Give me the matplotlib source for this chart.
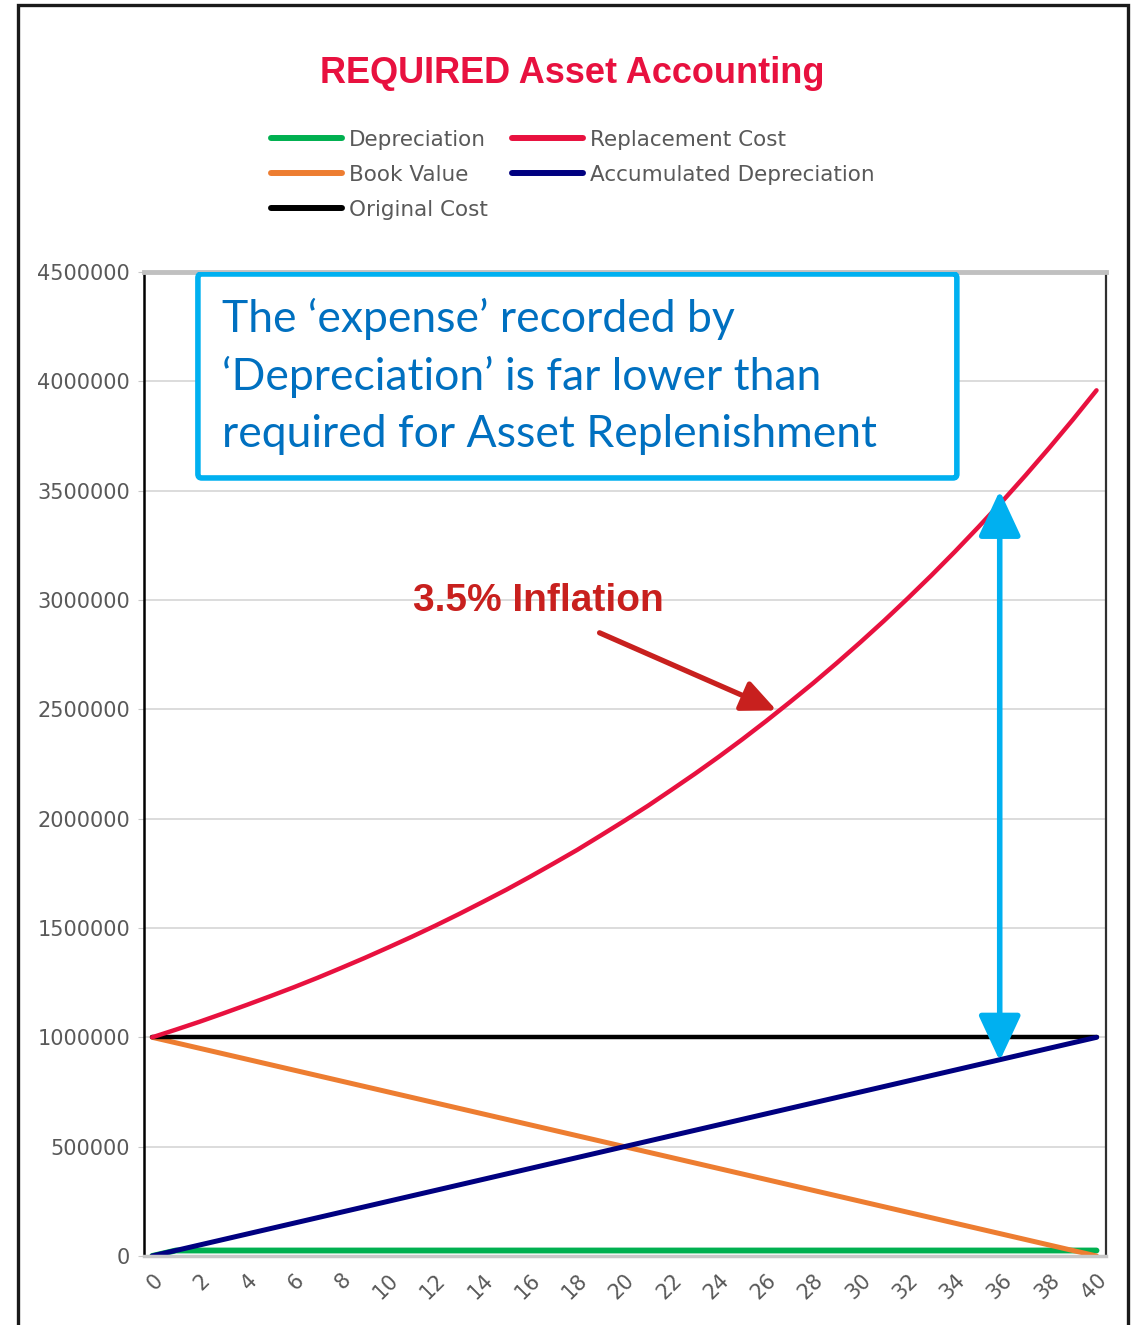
import matplotlib.pyplot as plt
from matplotlib.patches import Rectangle, FancyBboxPatch

# ---- data (40 year asset life, 3.5% inflation) ----
years = [0, 1, 2, 3, 4, 5, 6, 7, 8, 9, 10, 11, 12, 13, 14, 15, 16, 17, 18, 19, 20,
         21, 22, 23, 24, 25, 26, 27, 28, 29, 30, 31, 32, 33, 34, 35, 36, 37, 38, 39, 40]

depreciation = [0] + [25000] * 40

book_value = [1000000, 975000, 950000, 925000, 900000, 875000, 850000, 825000, 800000, 775000,
              750000, 725000, 700000, 675000, 650000, 625000, 600000, 575000, 550000, 525000,
              500000, 475000, 450000, 425000, 400000, 375000, 350000, 325000, 300000, 275000,
              250000, 225000, 200000, 175000, 150000, 125000, 100000, 75000, 50000, 25000, 0]

original_cost = [1000000] * 41

replacement_cost = [1000000, 1035000, 1071000, 1109000, 1148000, 1188000, 1229000, 1272000,
                    1317000, 1363000, 1411000, 1460000, 1511000, 1564000, 1619000, 1675000,
                    1734000, 1795000, 1857000, 1923000, 1990000, 2059000, 2132000, 2206000,
                    2283000, 2363000, 2446000, 2532000, 2620000, 2712000, 2807000, 2905000,
                    3007000, 3112000, 3221000, 3334000, 3450000, 3571000, 3696000, 3825000, 3959000]

accumulated_depreciation = [0, 25000, 50000, 75000, 100000, 125000, 150000, 175000, 200000, 225000,
                            250000, 275000, 300000, 325000, 350000, 375000, 400000, 425000, 450000,
                            475000, 500000, 525000, 550000, 575000, 600000, 625000, 650000, 675000,
                            700000, 725000, 750000, 775000, 800000, 825000, 850000, 875000, 900000,
                            925000, 950000, 975000, 1000000]

x_ticks = [0, 2, 4, 6, 8, 10, 12, 14, 16, 18, 20, 22, 24, 26, 28, 30, 32, 34, 36, 38, 40]
y_ticks = [0, 500000, 1000000, 1500000, 2000000, 2500000, 3000000, 3500000, 4000000, 4500000]

grey_text = '#595959'

fig = plt.figure(figsize=(11.37, 13.25), dpi=100)
ax = fig.add_axes([0.1266, 0.0521, 0.8461, 0.7426])

ax.plot(years, depreciation, color='#00b050', lw=4.2, label='Depreciation', solid_capstyle='round')
ax.plot(years, book_value, color='#ed7d31', lw=3.6, label='Book Value', solid_capstyle='round')
ax.plot(years, original_cost, color='#000000', lw=3.2, label='Original Cost', solid_capstyle='round')
ax.plot(years, replacement_cost, color='#e8113f', lw=3.2, label='Replacement Cost', solid_capstyle='round')
ax.plot(years, accumulated_depreciation, color='#000080', lw=3.6, label='Accumulated Depreciation',
        solid_capstyle='round')

ax.set_xlim(-0.35, 40.4)
ax.set_ylim(0, 4500000)
ax.set_xticks(x_ticks)
ax.set_yticks(y_ticks)
ax.set_yticklabels([str(v) for v in y_ticks])
ax.set_xticklabels([str(v) for v in x_ticks], rotation=45, ha='right', va='top',
                   rotation_mode='anchor')
ax.tick_params(axis='y', length=4, color='#c8c8c8', labelsize=15, labelcolor=grey_text, pad=6)
ax.tick_params(axis='x', length=0, labelsize=15, labelcolor=grey_text, pad=10)
ax.grid(axis='y', color='#d9d9d9', lw=1.3)
ax.set_axisbelow(True)

ax.spines['left'].set_color('#000000')
ax.spines['left'].set_linewidth(1.8)
ax.spines['right'].set_color('#303030')
ax.spines['right'].set_linewidth(1.6)
ax.spines['top'].set_color('#c0c0c0')
ax.spines['top'].set_linewidth(3.5)
ax.spines['bottom'].set_color('#c8c8c8')
ax.spines['bottom'].set_linewidth(2.5)

# title + legend (Excel style, above plot area)
fig.text(0.503, 0.9445, 'REQUIRED Asset Accounting', ha='center', va='center',
         fontsize=26, fontweight='bold', color='#e8113f', family='Liberation Sans')

handles, labels = ax.get_legend_handles_labels()
leg = fig.legend(handles, labels, ncol=2, loc='upper left', bbox_to_anchor=(0.238, 0.902),
                 frameon=False, fontsize=15.5, handlelength=3.3, handletextpad=0.35,
                 columnspacing=1.1, labelspacing=0.7, borderpad=0, borderaxespad=0)
for t in leg.get_texts():
    t.set_color(grey_text)
for h in leg.legend_handles:
    h.set_linewidth(4.3)

# note box
box = FancyBboxPatch((0.0561, 0.7907), 0.7889, 0.2073, transform=ax.transAxes,
                     boxstyle='round,pad=0,rounding_size=0.004', facecolor='white',
                     edgecolor='#00b0f0', lw=4, zorder=6)
ax.add_patch(box)
ax.text(0.081, 0.894, 'The \u2018expense\u2019 recorded by\n\u2018Depreciation\u2019 is far lower than\n'
        'required for Asset Replenishment', transform=ax.transAxes, ha='left', va='center',
        fontsize=32, color='#0070c0', family='Lato', linespacing=1.47, zorder=7)

# inflation callout
ax.text(11.05, 2996000, '3.5% Inflation', ha='left', va='center', fontsize=28,
        fontweight='bold', color='#c8201e', family='Liberation Sans', zorder=7)
ax.annotate('', xy=(26.45, 2495000), xytext=(18.95, 2850000),
            arrowprops=dict(arrowstyle='-|>,head_length=2.1,head_width=0.95',
                            color='#c8201e', lw=3.8, shrinkA=0, shrinkB=0), zorder=7)

# gap between replacement cost and depreciation
ax.annotate('', xy=(35.9, 3500000), xytext=(35.9, 892000),
            arrowprops=dict(arrowstyle='<|-|>,head_length=2.8,head_width=1.3',
                            color='#00b0f0', lw=4, shrinkA=0, shrinkB=0), zorder=7)

# outer frame of the chart object
frame = Rectangle((0.0158, -0.01), 0.9763, 1.0062, transform=fig.transFigure, fill=False,
                  edgecolor='#1a1a1a', lw=2.4, clip_on=False)
fig.patches.append(frame)

fig.savefig('out.png', dpi=100, facecolor='white')
